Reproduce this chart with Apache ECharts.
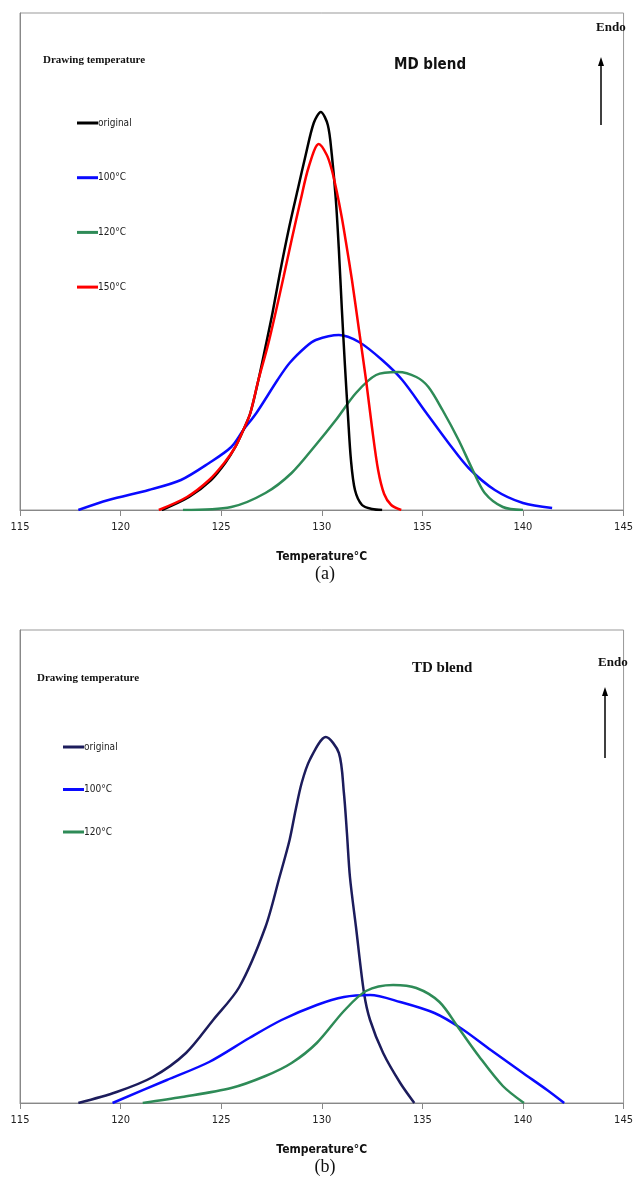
<!DOCTYPE html>
<html>
<head>
<meta charset="utf-8">
<script src="https://cdn.jsdelivr.net/npm/echarts@6/dist/echarts.min.js"></script>
<style>
  html, body { margin: 0; padding: 0; background: #fff; }
  #chart { width: 636px; height: 1183px; }
</style>
</head>
<body>
<div id="chart"></div>
<script>
  // heat flow in arbitrary units (no scale on the original y axis)
  var xTicks = [115, 120, 125, 130, 135, 140, 145];

  // (a) MD blend
  var mdOriginal = [[122.05,0],[123.4,13],[124.5,30],[125.2,47],[125.7,63],[126.1,80],[126.45,97],[126.85,130],[127.2,163],[127.55,197],[127.9,235],[128.35,280],[128.8,320],[129.2,355],[129.6,387],[129.95,398],[130.3,385],[130.5,355],[130.7,310],[130.85,260],[131.0,200],[131.15,145],[131.3,95],[131.45,50],[131.65,20],[132.0,5],[132.5,1],[133.0,0]];
  var md100 = [[117.9,0],[119.4,10],[121.4,20],[123.0,30],[124.4,47],[125.5,63],[126.1,80],[126.75,97],[127.8,130],[128.4,147],[129.2,163],[129.7,170],[130.85,175],[131.85,168],[133.0,150],[134.0,130],[135.2,97],[136.3,67],[137.3,42],[138.6,20],[140.0,7],[141.45,2]];
  var md120 = [[123.1,0],[125.5,3],[127.2,17],[128.5,37],[129.7,65],[130.7,90],[131.7,117],[132.7,135],[133.8,138],[134.7,133],[135.3,123],[136.0,100],[136.8,70],[137.5,40],[138.1,17],[139.0,3],[140.0,0]];
  var md150 = [[121.9,0],[123.3,13],[124.4,30],[125.15,47],[125.7,63],[126.1,80],[126.45,97],[126.85,130],[127.3,163],[127.7,197],[128.1,233],[128.5,270],[128.95,310],[129.35,343],[129.85,366],[130.25,355],[130.5,340],[130.75,318],[131.0,292],[131.2,268],[131.5,230],[131.85,180],[132.2,130],[132.5,82],[132.8,40],[133.1,16],[133.45,5],[133.95,0]];

  // (b) TD blend
  var tdOriginal = [[117.9,0],[119.8,11],[121.6,26],[123.25,50],[124.6,83],[125.9,116],[127.2,176],[127.9,226],[128.4,263],[128.7,293],[129.0,320],[129.4,343],[130.2,366],[130.85,350],[131.1,310],[131.25,270],[131.4,226],[131.7,176],[132.1,110],[132.4,83],[133.05,50],[133.9,20],[134.6,0]];
  var td100 = [[119.6,0],[122.3,23],[124.4,41],[126.4,65],[128.0,83],[129.75,98],[131.1,106],[132.4,108],[133.9,101],[135.6,90],[136.9,75],[138.4,53],[140.0,30],[141.2,13],[142.05,0]];
  var td120 = [[121.1,0],[123.05,6],[125.5,15],[127.2,27],[128.5,40],[129.75,60],[131.1,92],[132.2,112],[133.55,118],[134.7,115],[135.85,101],[136.8,75],[137.8,47],[139.0,17],[140.05,0]];

  var mdNames = ['a|original', 'a|100°C', 'a|120°C', 'a|150°C'];
  var tdNames = ['b|original', 'b|100°C', 'b|120°C'];

  var narrow = "'Liberation Sans Narrow', 'DejaVu Sans Condensed', 'Liberation Sans', Arial, sans-serif";
  var serif = "'Liberation Serif', 'Times New Roman', serif";

  function xAxis(gridIndex) {
    return {
      type: 'value', gridIndex: gridIndex,
      min: xTicks[0], max: xTicks[xTicks.length - 1], interval: 5,
      axisLine: { lineStyle: { color: '#888', width: 1 } },
      axisTick: { length: 6, lineStyle: { color: '#888' } },
      axisLabel: { fontSize: 11, color: '#222', margin: 12, fontFamily: narrow },
      splitLine: { show: false },
      name: 'Temperature°C', nameLocation: 'middle', nameGap: 41,
      nameTextStyle: { fontSize: 12, fontWeight: 'bold', color: '#111', fontFamily: narrow }
    };
  }
  function yAxis(gridIndex, max) {
    return {
      type: 'value', gridIndex: gridIndex, min: 0, max: max,
      axisLine: { show: true, lineStyle: { color: '#888' } },
      axisTick: { show: false }, axisLabel: { show: false }, splitLine: { show: false }
    };
  }
  function line(name, data, color, idx) {
    return {
      name: name, type: 'line', data: data, xAxisIndex: idx, yAxisIndex: idx,
      smooth: 0.3, showSymbol: false, silent: true,
      lineStyle: { color: color, width: 2.5 }, itemStyle: { color: color }
    };
  }
  function legend(names, left, top, gap) {
    return {
      data: names, orient: 'vertical', left: left, top: top, itemGap: gap,
      icon: 'rect', itemWidth: 21, itemHeight: 3, selectedMode: false,
      formatter: function (n) { return n.split('|')[1]; },
      textStyle: { fontSize: 10, lineHeight: 12, color: '#222', fontFamily: narrow, padding: [0, 0, 0, -5] }
    };
  }
  function label(text, x, y, font, align) {
    return {
      type: 'text', x: x, y: y, silent: true,
      style: { text: text, font: font, fill: '#111', textAlign: align || 'left', textVerticalAlign: 'middle' }
    };
  }
  function arrow(x, y1, y2) {
    return [
      { type: 'line', silent: true, shape: { x1: x, y1: y1 + 6, x2: x, y2: y2 }, style: { stroke: '#000', lineWidth: 1.5 } },
      { type: 'polygon', silent: true, shape: { points: [[x, y1], [x - 3, y1 + 9], [x + 3, y1 + 9]] }, style: { fill: '#000' } }
    ];
  }

  var chart = echarts.init(document.getElementById('chart'), null, { renderer: 'canvas' });
  chart.setOption({
    backgroundColor: '#fff',
    animation: false,
    grid: [
      { left: 20, right: 9, top: 13, height: 497, show: true, borderColor: '#999', borderWidth: 1 },
      { left: 20, right: 10, top: 630, height: 473, show: true, borderColor: '#999', borderWidth: 1 }
    ],
    xAxis: [xAxis(0), xAxis(1)],
    yAxis: [yAxis(0, 497), yAxis(1, 473)],
    legend: [legend(mdNames, 72, 112, 42.7), legend(tdNames, 58, 736, 30.5)],
    series: [
      line(mdNames[1], md100, '#0a0aff', 0),
      line(mdNames[2], md120, '#2e8b57', 0),
      line(mdNames[0], mdOriginal, '#000000', 0),
      line(mdNames[3], md150, '#ff0000', 0),
      line(tdNames[0], tdOriginal, '#1c1c5c', 1),
      line(tdNames[1], td100, '#0a0aff', 1),
      line(tdNames[2], td120, '#2e8b57', 1)
    ],
    graphic: [
      label('Drawing temperature', 43, 60, 'bold 11px ' + serif),
      label('MD blend', 394, 65, 'bold 15px ' + narrow),
      label('Endo', 596, 28, 'bold 13px ' + serif),
      label('(a)', 325, 574, '18px ' + serif, 'center'),
      label('Drawing temperature', 37, 678, 'bold 11px ' + serif),
      label('TD blend', 412, 668, 'bold 15px ' + serif),
      label('Endo', 598, 663, 'bold 13px ' + serif),
      label('(b)', 325, 1167, '18px ' + serif, 'center')
    ].concat(arrow(601, 57, 125), arrow(605, 687, 758))
  });
</script>
</body>
</html>
